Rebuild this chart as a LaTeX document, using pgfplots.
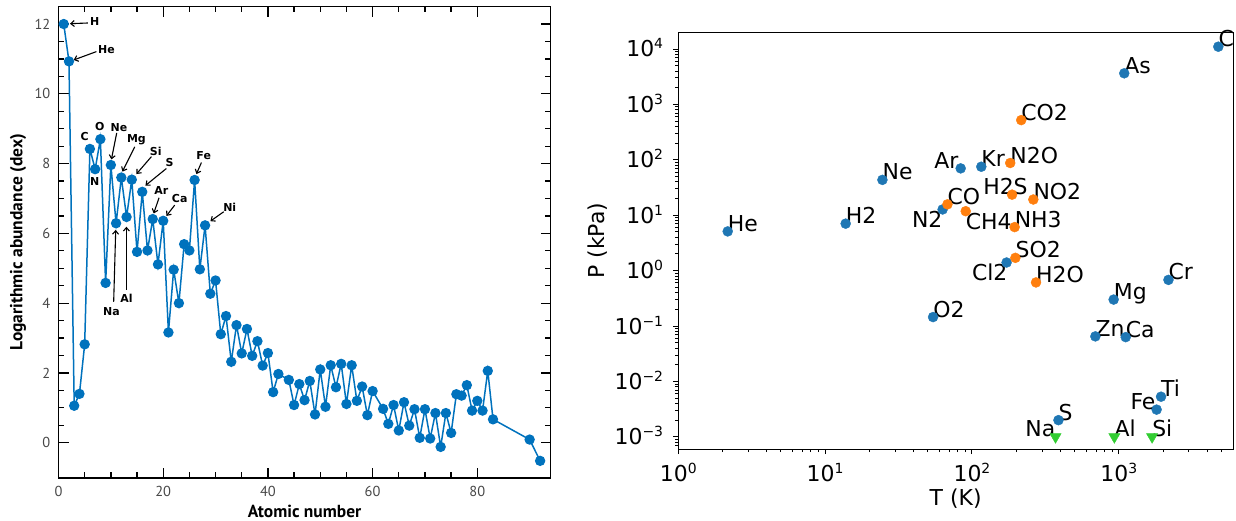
\documentclass[border=0pt]{standalone}
\usepackage{fontspec}
\setmainfont{DejaVu Sans}
\newfontfamily\ptsans{PT Sans}
\usepackage{pgfplots}
\pgfplotsset{compat=1.18}
\usetikzlibrary{arrows.meta}

\definecolor{abund}{RGB}{0,114,189}
\definecolor{mplblue}{HTML}{1F77B4}
\definecolor{mplorange}{HTML}{FF7F0E}
\definecolor{mplgreen}{HTML}{32CD32}

% superscript for the decade labels
\newcommand{\sups}[1]{\raisebox{8bp}{\fontsize{14}{14}\selectfont #1}}

\tikzset{
  el/.style={font=\bfseries\fontsize{11}{13}\selectfont, inner sep=0pt, anchor=center},
  arr/.style={-{Straight Barb[length=3.5bp,width=6bp]}, line width=1.1bp, black},
  lab/.style={font=\fontsize{22}{26}\selectfont, inner sep=0pt, anchor=base west},
}

% solar system abundances, log scale (H = 12)
\pgfplotstableread{
Z A
1 12.00
2 10.93
3 1.06
4 1.40
5 2.82
6 8.42
7 7.84
8 8.70
9 4.58
10 7.96
11 6.29
12 7.60
13 6.47
14 7.54
15 5.47
16 7.19
17 5.51
18 6.41
19 5.11
20 6.36
21 3.16
22 4.96
23 4.00
24 5.69
25 5.51
26 7.53
27 4.97
28 6.23
29 4.27
30 4.65
31 3.11
32 3.63
33 2.32
34 3.37
35 2.56
36 3.26
37 2.49
38 2.91
39 2.21
40 2.57
41 1.45
42 1.97
44 1.80
45 1.08
46 1.68
47 1.22
48 1.77
49 0.81
50 2.10
51 1.03
52 2.22
53 1.59
54 2.26
55 1.11
56 2.22
57 1.20
58 1.61
59 0.79
60 1.48
62 0.97
63 0.54
64 1.08
65 0.35
66 1.16
67 0.49
68 0.96
69 0.14
70 0.96
71 0.12
72 0.85
73 -0.12
74 0.85
75 0.28
76 1.39
77 1.35
78 1.65
79 0.92
80 1.20
81 0.92
82 2.06
83 0.67
90 0.09
92 -0.52
}\abundances

% triple points: T (K), P (kPa)
\pgfplotstableread{
T P
2.17 5.1
13.8 7.04
24.56 43.4
63.15 12.7
54.36 0.145
83.81 70
115.8 75
172.2 1.40
923 0.30
692.7 0.065
1115 0.063
2180 0.68
1941 0.0053
1811 0.0031
388.4 0.002
1090 3640
4765 11000
}\elements

\pgfplotstableread{
T P
216.6 520
182.3 87.5
187.7 23.5
261.9 19.2
68.1 15.7
90.7 11.8
195.4 6.1
197.7 1.70
273.16 0.6117
}\molecules

\pgfplotstableread{
T P
370.9 0.001
933.5 0.001
1687 0.001
}\metals

\begin{document}
\begin{tikzpicture}
\useasboundingbox (0bp,0bp) rectangle (1236bp,521bp);

% ---------------- abundance panel ----------------
\begin{axis}[
  at={(58.5bp,43.4bp)}, anchor=south west, scale only axis,
  width=492.1bp, height=471bp,
  xmin=0, xmax=94, ymin=-1, ymax=12.5,
  xtick={0,20,...,80}, ytick={0,2,...,12},
  minor x tick num=3, minor y tick num=3,
  tick align=inside, xtick pos=both, ytick pos=both,
  major tick length=10bp, minor tick length=5.5bp,
  axis line style={line width=1.8bp, black},
  tick style={line width=1.3bp, black},
  /pgf/number format/assume math mode=true,
  ticklabel style={font=\ptsans\fontsize{14.5}{16}\selectfont, text=black!72},
  xticklabel style={anchor=base, inner sep=0pt, yshift=-19bp},
  yticklabel style={anchor=east, inner sep=0pt, xshift=-8bp},
  xlabel={Atomic number},
  ylabel={Logarithmic abundance (dex)},
  label style={font=\ptsans\bfseries\fontsize{17.5}{20}\selectfont},
  xlabel style={at={(axis description cs:0.5,-0.0837)}, anchor=base},
  ylabel style={at={(axis description cs:-0.0823,0.5)}, anchor=center},
  clip=false,
]
\addplot[abund, line width=1.5bp, mark=*, mark size=4.4bp] table[x=Z, y=A] {\abundances};

\node[el] at (axis cs:6.9,12.06) {H};
\draw[arr] (axis cs:5.6,12.03) -- (axis cs:2.2,12.01);
\node[el] at (axis cs:9.15,11.28) {He};
\draw[arr] (axis cs:7.24,11.21) -- (axis cs:2.9,10.97);
\node[el] at (axis cs:5.0,8.79) {C};
\node[el] at (axis cs:7.87,9.05) {O};
\node[el] at (axis cs:6.91,7.48) {N};
\node[el] at (axis cs:11.56,9.04) {Ne};
\draw[arr] (axis cs:11.12,8.88) -- (axis cs:10.11,8.12);
\node[el] at (axis cs:14.88,8.68) {Mg};
\draw[arr] (axis cs:14.56,8.48) -- (axis cs:12.21,7.77);
\node[el] at (axis cs:18.57,8.34) {Si};
\draw[arr] (axis cs:17.75,8.20) -- (axis cs:14.88,7.70);
\node[el] at (axis cs:21.24,8.03) {S};
\draw[arr] (axis cs:20.61,7.86) -- (axis cs:16.60,7.37);
\node[el] at (axis cs:19.66,7.22) {Ar};
\draw[arr] (axis cs:19.20,7.02) -- (axis cs:18.19,6.57);
\node[el] at (axis cs:23.15,6.99) {Ca};
\draw[arr] (axis cs:22.20,6.81) -- (axis cs:20.61,6.50);
\node[el] at (axis cs:27.74,8.24) {Fe};
\draw[arr] (axis cs:27.30,8.03) -- (axis cs:26.34,7.70);
\node[el] at (axis cs:32.71,6.76) {Ni};
\draw[arr] (axis cs:31.56,6.62) -- (axis cs:29.02,6.35);
\node[el] at (axis cs:10.11,3.77) {Na};
\draw[arr] (axis cs:10.54,4.04) -- (axis cs:10.93,6.10);
\node[el] at (axis cs:12.97,4.14) {Al};
\draw[arr] (axis cs:12.97,4.38) -- (axis cs:12.97,6.19);
\end{axis}

% ---------------- triple point panel ----------------
\begin{axis}[
  at={(678.3bp,72bp)}, anchor=south west, scale only axis,
  width=554.7bp, height=416.7bp,
  xmode=log, ymode=log,
  xmin=1, xmax=6000, ymin=6.03e-4, ymax=2e4,
  xtick={1,10,100,1000},
  xticklabels={10\sups{0},10\sups{1},10\sups{2},10\sups{3}},
  ytick={1e-3,1e-2,1e-1,1,10,100,1000,10000},
  yticklabels={10\sups{−3},10\sups{−2},10\sups{−1},10\sups{0},10\sups{1},10\sups{2},10\sups{3},10\sups{4}},
  minor xtick={2,3,4,5,6,7,8,9,20,30,40,50,60,70,80,90,200,300,400,500,600,700,800,900,2000,3000,4000,5000},
  minor ytick={7e-4,8e-4,9e-4,2e-3,3e-3,4e-3,5e-3,6e-3,7e-3,8e-3,9e-3,2e-2,3e-2,4e-2,5e-2,6e-2,7e-2,8e-2,9e-2,0.2,0.3,0.4,0.5,0.6,0.7,0.8,0.9,2,3,4,5,6,7,8,9,20,30,40,50,60,70,80,90,200,300,400,500,600,700,800,900,2000,3000,4000,5000,6000,7000,8000,9000},
  tick align=outside, xtick pos=left, ytick pos=left,
  major tick length=5bp, minor tick length=3bp,
  axis line style={line width=1bp},
  tick style={line width=0.9bp, black},
  ticklabel style={font=\fontsize{22}{26}\selectfont},
  xticklabel style={anchor=base, inner sep=0pt, yshift=-27.7bp},
  yticklabel style={anchor=base east, inner sep=0pt, xshift=-10bp, yshift=-8bp},
  xlabel={T (K)}, ylabel={P (kPa)},
  label style={font=\fontsize{22}{26}\selectfont},
  xlabel style={at={(axis description cs:0.5,-0.1344)}, anchor=base},
  ylabel style={at={(axis description cs:-0.1448,0.5)}, anchor=center},
  clip=false,
]
\addplot[only marks, mark=*, mark size=5bp, mplblue, mark options={draw=none, fill=mplblue}] table[x=T, y=P] {\elements};
\addplot[only marks, mark=*, mark size=5bp, mplorange, mark options={draw=none, fill=mplorange}] table[x=T, y=P] {\molecules};
\addplot[only marks, mark=triangle*, mark size=6.5bp, mplgreen, mark options={draw=none, fill=mplgreen, rotate=180}] table[x=T, y=P] {\metals};

\node[lab] at (axis cs:2.17,5.1) {He};
\node[lab] at (axis cs:13.8,7.04) {H2};
\node[lab] at (axis cs:24.56,43.4) {Ne};
\node[lab, anchor=base east, yshift=-18.4bp] at (axis cs:63.15,12.7) {N2};
\node[lab] at (axis cs:54.36,0.145) {O2};
\node[lab, anchor=base east, xshift=-2bp] at (axis cs:83.81,70) {Ar};
\node[lab] at (axis cs:115.8,75) {Kr};
\node[lab, anchor=base east, xshift=1bp, yshift=-18.4bp] at (axis cs:172.2,1.40) {Cl2};
\node[lab] at (axis cs:923,0.30) {Mg};
\node[lab] at (axis cs:692.7,0.065) {Zn};
\node[lab] at (axis cs:1115,0.063) {Ca};
\node[lab] at (axis cs:2180,0.68) {Cr};
\node[lab] at (axis cs:1941,0.0053) {Ti};
\node[lab, anchor=base east, xshift=-1bp] at (axis cs:1811,0.0031) {Fe};
\node[lab] at (axis cs:388.4,0.002) {S};
\node[lab] at (axis cs:1090,3640) {As};
\node[lab] at (axis cs:4765,11000) {C};
\node[lab] at (axis cs:216.6,520) {CO2};
\node[lab] at (axis cs:182.3,87.5) {N2O};
\node[lab, xshift=-29bp] at (axis cs:187.7,23.5) {H2S};
\node[lab] at (axis cs:261.9,19.2) {NO2};
\node[lab] at (axis cs:68.1,15.7) {CO};
\node[lab, yshift=-18.3bp] at (axis cs:90.7,11.8) {CH4};
\node[lab] at (axis cs:195.4,6.1) {NH3};
\node[lab] at (axis cs:197.7,1.70) {SO2};
\node[lab] at (axis cs:273.16,0.6117) {H2O};
\node[lab, anchor=base east] at (axis cs:370.9,0.001) {Na};
\node[lab] at (axis cs:933.5,0.001) {Al};
\node[lab] at (axis cs:1687,0.001) {Si};
\end{axis}
\end{tikzpicture}
\end{document}
